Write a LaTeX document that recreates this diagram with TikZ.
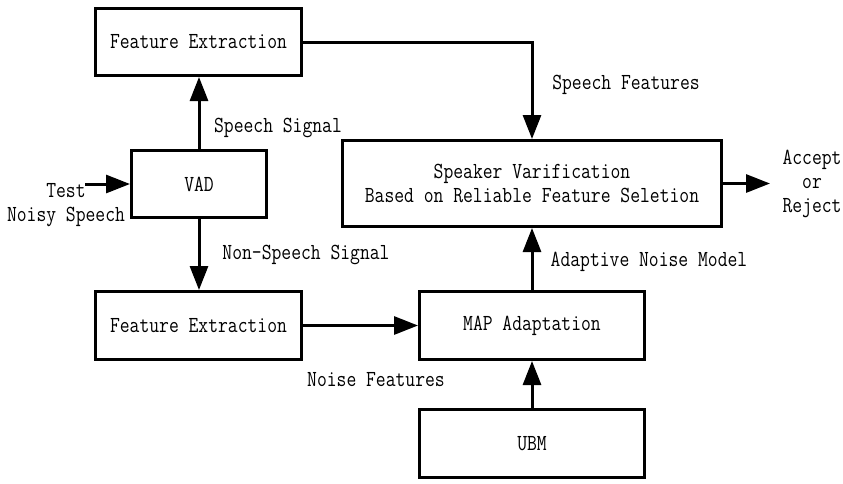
\documentclass[tikz,border=0pt]{standalone}
\usepackage{fontspec}
\setmainfont{Latin Modern Mono}[FakeStretch=0.83]
\usetikzlibrary{arrows.meta}
\tikzset{
  blk/.style={draw, line width=3pt, rectangle, inner sep=0pt, align=center},
  arr/.style={line width=3pt, -{Triangle[length=24pt 0, width=18pt 0]}},
  lbl/.style={inner sep=0pt, align=center}
}
\begin{document}
\begin{tikzpicture}[x=1pt,y=-1pt,font=\fontsize{23}{24}\selectfont]
\useasboundingbox (0,0) rectangle (843,483);
\node[blk, minimum width=206pt, minimum height=67pt] (fe1) at (198.5,42) {Feature Extraction};
\node[blk, minimum width=135pt, minimum height=67pt] (vad) at (199,184) {VAD};
\node[blk, minimum width=379pt, minimum height=86pt] (sv) at (532,183.5) {Speaker Varification\\Based on Reliable Feature Seletion};
\node[blk, minimum width=206pt, minimum height=68pt] (fe2) at (198.5,325.5) {Feature Extraction};
\node[blk, minimum width=225pt, minimum height=68pt] (map) at (532,325.5) {MAP Adaptation};
\node[blk, minimum width=225pt, minimum height=68pt] (ubm) at (532,443.5) {UBM};

\coordinate (tin) at (85,184);
\coordinate (acc) at (770,183.5);

\draw[arr] (tin) -- (vad.west);
\draw[arr] (vad.north) -- (vad.north |- fe1.south);
\draw[arr] (fe1.east) -| (sv.north);
\draw[arr] (sv.east) -- (acc);
\draw[arr] (vad.south) -- (vad.south |- fe2.north);
\draw[arr] (fe2.east) -- (map.west);
\draw[arr] (ubm.north) -- (map.south);
\draw[arr] (map.north) -- (sv.south);

\node[lbl] (ltest) at (66,205) {Test\\Noisy Speech};
\node[lbl] (lss) at (278,128) {Speech Signal};
\node[lbl] (lsf) at (626,85) {Speech Features};
\node[lbl] (lns) at (306,255) {Non-Speech Signal};
\node[lbl] (lnf) at (376,380) {Noise Features};
\node[lbl] (lanm) at (649,262) {Adaptive Noise Model};
\node[lbl] (lacc) at (812,184) {Accept\\or\\Reject};
\end{tikzpicture}
\end{document}
